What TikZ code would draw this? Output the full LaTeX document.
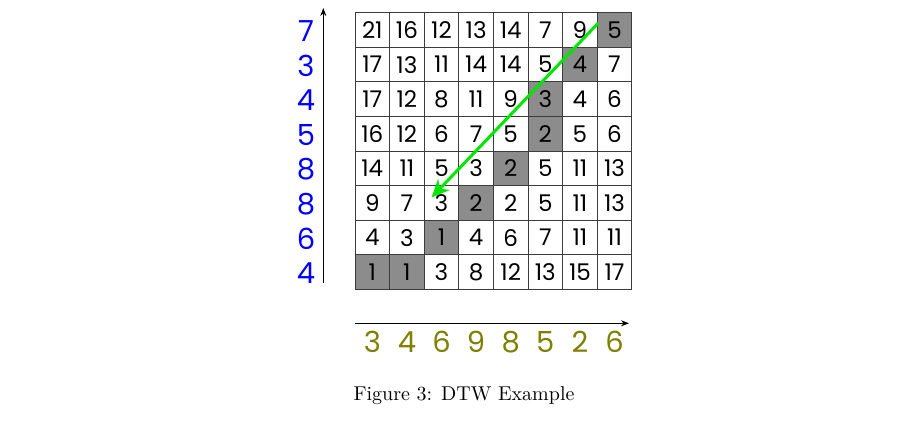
\documentclass[tikz,border=0pt]{standalone}
\usepackage{fontspec}
\newfontfamily\pop{Poppins}
\usetikzlibrary{arrows.meta}
\definecolor{cellgray}{RGB}{140,140,140}
\definecolor{gridline}{RGB}{60,60,60}
\definecolor{olivetxt}{RGB}{128,128,0}
\definecolor{pathgreen}{RGB}{0,230,0}
\tikzset{
  cellbox/.style={draw=gridline, line width=0.5pt, fill=white, minimum size=17.3pt, inner sep=0pt, font=\fontsize{11.5}{13}\pop},
  shade/.style={fill=cellgray},
  s0-7/.style={shade}, s1-6/.style={shade}, s2-5/.style={shade}, s3-5/.style={shade},
  s4-4/.style={shade}, s5-3/.style={shade}, s6-2/.style={shade}, s7-0/.style={shade}, s7-1/.style={shade},
  ylab/.style={text=blue, font=\fontsize{14.5}{16}\pop, inner sep=0pt},
  xlab/.style={text=olivetxt, font=\fontsize{14.5}{16}\pop, inner sep=0pt},
  axis/.style={line width=0.5pt, -{Stealth[length=4pt,width=3pt]}},
  warp/.style={draw=pathgreen, line width=1.5pt, -{Stealth[length=9pt,width=8pt]}}
}
\begin{document}
\begin{tikzpicture}[x=0.5pt,y=-0.5pt]
\useasboundingbox (0,0) rectangle (911,437);
\foreach \r [count=\j from 0] in {
  {21,16,12,13,14,7,9,5},
  {17,13,11,14,14,5,4,7},
  {17,12,8,11,9,3,4,6},
  {16,12,6,7,5,2,5,6},
  {14,11,5,3,2,5,11,13},
  {9,7,3,2,2,5,11,13},
  {4,3,1,4,6,7,11,11},
  {1,1,3,8,12,13,15,17}}{
  \foreach \v [count=\i from 0] in \r {
    \node[cellbox, s\j-\i/.try] (c\j\i) at ({372.3+34.6*\i},{30+34.6*\j}) {\v};
  }
}
\foreach \v [count=\j from 0] in {7,3,4,5,8,8,6,4}
  \node[ylab] (y\j) at (306,{31+34.6*\j}) {\v};
\foreach \v [count=\i from 0] in {3,4,6,9,8,5,2,6}
  \node[xlab] (x\i) at ({372.3+34.6*\i},342) {\v};
\coordinate (vb) at (323.3,283);
\coordinate (vt) at (323.3,8);
\draw[axis] (vb) -- (vt);
\coordinate (hl) at (355,323.3);
\coordinate (hr) at (629,323.3);
\draw[axis] (hl) -- (hr);
\coordinate (ws) at (598.3,23);
\coordinate (we) at (431.5,197.5);
\draw[warp] (ws) -- (we);
\node[font=\fontsize{10}{12}\selectfont, inner sep=0pt] (cap) at (464,396) {Figure 3: DTW Example};
\end{tikzpicture}
\end{document}
